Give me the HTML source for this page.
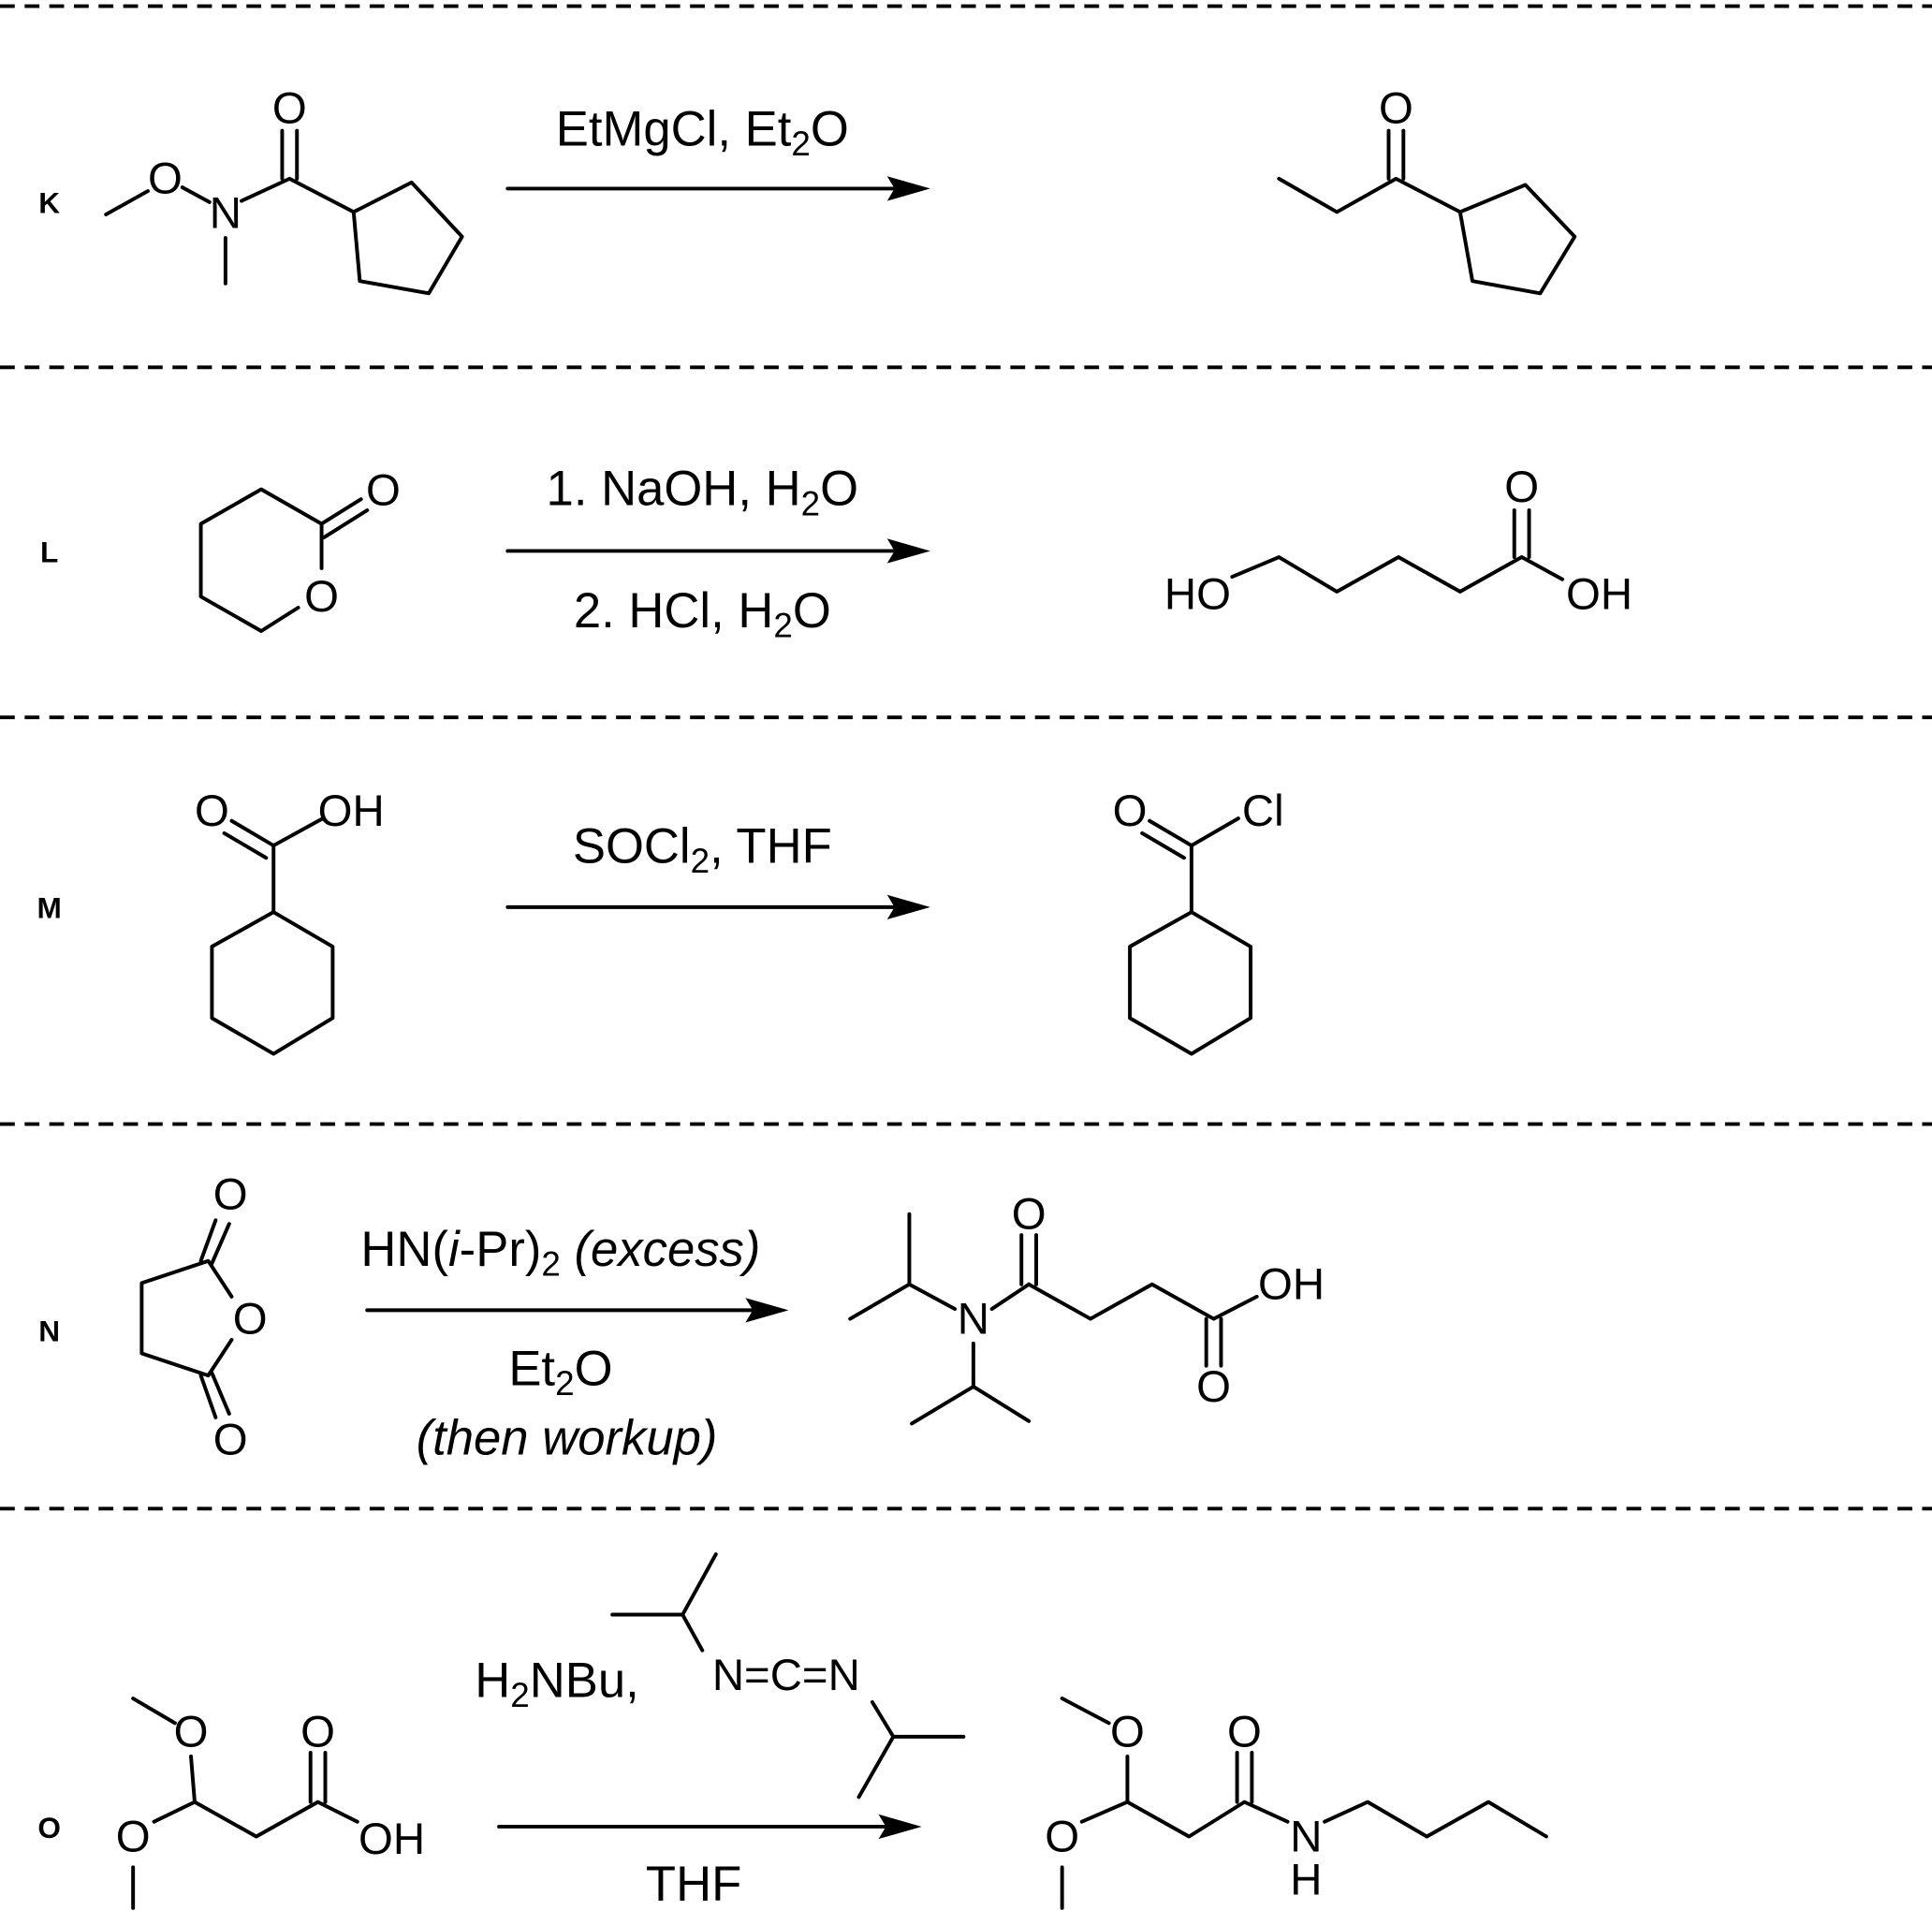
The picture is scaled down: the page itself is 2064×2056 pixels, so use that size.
<!DOCTYPE html>
<html><head><meta charset="utf-8"><style>html,body{margin:0;padding:0;background:#fff}</style></head><body>
<svg width="2064" height="2051" viewBox="0 0 1568 1558" preserveAspectRatio="none" xmlns="http://www.w3.org/2000/svg">
<rect width="1568" height="1558" fill="#fff"/>
<g stroke="#000" stroke-width="3" stroke-dasharray="12,8">
<line x1="0" y1="5" x2="1568" y2="5"/><line x1="0" y1="298" x2="1568" y2="298"/><line x1="0" y1="582" x2="1568" y2="582"/><line x1="0" y1="912" x2="1568" y2="912"/><line x1="0" y1="1224" x2="1568" y2="1224"/>
</g>
<g font-family="Liberation Sans, sans-serif" font-weight="bold" font-size="24" text-anchor="middle">
<text x="40" y="173">K</text><text x="40" y="456">L</text><text x="40" y="745">M</text><text x="40" y="1088">N</text><text x="40" y="1491">O</text>
</g>
<g stroke="#000" stroke-width="3" fill="none" stroke-linecap="round" stroke-linejoin="round">
<!-- K -->
<polyline points="86,174 120,155"/><line x1="148" y1="152" x2="170" y2="164"/>
<line x1="183" y1="193" x2="183" y2="230"/>
<line x1="196" y1="163" x2="235" y2="145"/>
<line x1="229" y1="145" x2="229" y2="106"/><line x1="241" y1="145" x2="241" y2="106"/>
<line x1="235" y1="145" x2="287" y2="172"/>
<polygon points="287,172 334,148 375,192 348,238 292,228"/>
<line x1="412" y1="153" x2="725" y2="153"/>
<polyline points="1038,145 1085,172 1133,145 1185,172"/>
<line x1="1127" y1="145" x2="1127" y2="106"/><line x1="1139" y1="145" x2="1139" y2="106"/>
<polygon points="1185,172 1238,150 1278,192 1250,238 1195,228"/>
<!-- L -->
<polyline points="242,493 212,512 163,484 163,425 212,397 261,425 261,461"/>
<line x1="261" y1="425" x2="293" y2="405"/><line x1="263" y1="436" x2="298" y2="414"/>
<line x1="412" y1="447" x2="725" y2="447"/>
<polyline points="1000,468 1038,452 1085,480 1135,452 1185,480 1235,452 1268,470"/>
<line x1="1229" y1="452" x2="1229" y2="414"/><line x1="1241" y1="452" x2="1241" y2="414"/>
<!-- M -->
<line x1="222" y1="686" x2="222" y2="740"/>
<line x1="222" y1="686" x2="262" y2="664"/>
<line x1="222" y1="686" x2="188" y2="666"/><line x1="216" y1="696" x2="182" y2="676"/>
<polygon points="222,740 270,768 270,826 222,855 172,826 172,768"/>
<line x1="412" y1="736" x2="725" y2="736"/>
<line x1="967" y1="686" x2="967" y2="740"/>
<line x1="967" y1="686" x2="1005" y2="664"/>
<line x1="967" y1="686" x2="933" y2="666"/><line x1="961" y1="696" x2="927" y2="676"/>
<polygon points="967,740 1015,768 1015,826 967,855 917,826 917,768"/>
<!-- N -->
<polyline points="188,1052 169,1023 115,1041 115,1098 169,1116 188,1087"/>
<line x1="163" y1="1023" x2="175" y2="990"/><line x1="172" y1="1025" x2="186" y2="993"/>
<line x1="163" y1="1116" x2="175" y2="1150"/><line x1="172" y1="1114" x2="186" y2="1147"/>
<line x1="298" y1="1063" x2="612" y2="1063"/>
<polyline points="690,1070 738,1042 738,985"/><line x1="738" y1="1042" x2="775" y2="1062"/>
<line x1="790" y1="1090" x2="790" y2="1125"/><polyline points="740,1155 790,1125 835,1153"/>
<line x1="805" y1="1062" x2="835" y2="1042"/>
<line x1="829" y1="1042" x2="829" y2="1002"/><line x1="841" y1="1042" x2="841" y2="1002"/>
<polyline points="835,1042 885,1070 935,1042 985,1070 1020,1052"/>
<line x1="979" y1="1070" x2="979" y2="1108"/><line x1="991" y1="1070" x2="991" y2="1108"/>
<!-- O -->
<polyline points="108,1378 142,1398"/><line x1="155" y1="1425" x2="158" y2="1462"/>
<polyline points="125,1478 158,1462 208,1490 258,1462 290,1478"/>
<line x1="108" y1="1515" x2="108" y2="1548"/>
<line x1="252" y1="1462" x2="252" y2="1422"/><line x1="264" y1="1462" x2="264" y2="1422"/>
<line x1="405" y1="1482" x2="718" y2="1482"/>
<polyline points="497,1310 554,1310 581,1261"/><line x1="554" y1="1310" x2="570" y2="1339"/>
<line x1="708" y1="1381" x2="725" y2="1409"/><polyline points="782,1409 725,1409 697,1458"/>
<polyline points="862,1378 900,1398"/><line x1="915" y1="1425" x2="915" y2="1462"/>
<polyline points="878,1478 915,1462 965,1490 1010,1462 1045,1478"/>
<line x1="862" y1="1515" x2="862" y2="1548"/>
<line x1="1004" y1="1462" x2="1004" y2="1422"/><line x1="1016" y1="1462" x2="1016" y2="1422"/>
<polyline points="1075,1478 1110,1462 1158,1490 1208,1462 1255,1490"/>
</g>
<g fill="#000">
<polygon points="755,153 720,143 726,153 720,163"/>
<polygon points="755,447 720,437 726,447 720,457"/>
<polygon points="755,736 720,726 726,736 720,746"/>
<polygon points="640,1063 605,1053 611,1063 605,1073"/>
<polygon points="748,1482 713,1472 719,1482 713,1492"/>
</g>
<g font-family="Liberation Sans, sans-serif" font-size="36" text-anchor="middle">
<text x="134" y="157">O</text><text x="183" y="185">N</text><text x="235" y="100">O</text>
<text x="1133" y="100">O</text>
<text x="311" y="410">O</text><text x="261" y="496">O</text>
<text x="972" y="494">HO</text><text x="1235" y="407">O</text><text x="1298" y="494">OH</text>
<text x="172" y="670">O</text><text x="285" y="670">OH</text>
<text x="917" y="670">O</text><text x="1025" y="670">Cl</text>
<text x="187" y="981">O</text><text x="203" y="1082">O</text><text x="187" y="1180">O</text>
<text x="790" y="1082">N</text><text x="835" y="997">O</text><text x="985" y="1137">O</text><text x="1048" y="1054">OH</text>
<text x="155" y="1417">O</text><text x="108" y="1502">O</text><text x="258" y="1417">O</text><text x="318" y="1504">OH</text>
<text x="638" y="1371">N=C=N</text>
<text x="915" y="1417">O</text><text x="862" y="1502">O</text><text x="1010" y="1417">O</text>
<text x="1060" y="1502">N</text><text x="1060" y="1537">H</text>
</g>
<g font-family="Liberation Sans, sans-serif" font-size="40" text-anchor="middle">
<text x="570" y="118">EtMgCl, Et<tspan dy="8" font-size="28">2</tspan><tspan dy="-8">O</tspan></text>
<text x="570" y="410">1. NaOH, H<tspan dy="8" font-size="28">2</tspan><tspan dy="-8">O</tspan></text>
<text x="570" y="509">2. HCl, H<tspan dy="8" font-size="28">2</tspan><tspan dy="-8">O</tspan></text>
<text x="570" y="700">SOCl<tspan dy="8" font-size="28">2</tspan><tspan dy="-8">, THF</tspan></text>
<text x="455" y="1027">HN(<tspan font-style="italic">i</tspan>-Pr)<tspan dy="8" font-size="28">2</tspan><tspan dy="-8" font-style="italic"> (excess)</tspan></text>
<text x="455" y="1124">Et<tspan dy="8" font-size="28">2</tspan><tspan dy="-8">O</tspan></text>
<text x="460" y="1180" font-style="italic">(then workup)</text>
<text x="452" y="1377">H<tspan dy="8" font-size="28">2</tspan><tspan dy="-8">NBu,</tspan></text>
<text x="563" y="1542">THF</text>
</g>
</svg>
</body></html>
